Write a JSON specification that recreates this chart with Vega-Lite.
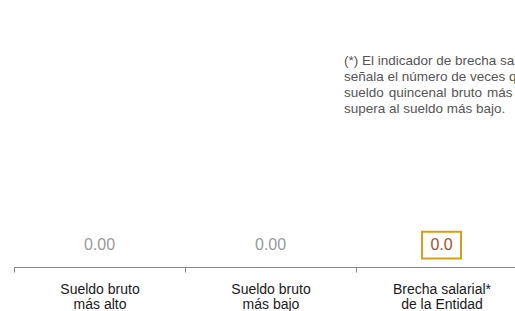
{
  "$schema": "https://vega.github.io/schema/vega-lite/v6.json",
  "autosize": "none",
  "padding": {"left": 14, "top": 0, "right": 0, "bottom": 44},
  "width": 513,
  "height": 267,
  "background": "white",
  "config": {"view": {"stroke": null}, "font": "Liberation Sans"},
  "datasets": {
    "valores": [
      {"concepto": "Sueldo bruto|más alto", "valor": "0.00"},
      {"concepto": "Sueldo bruto|más bajo", "valor": "0.00"},
      {"concepto": "Brecha salarial*|de la Entidad", "valor": "0.0"}
    ],
    "nota": [
      {"texto": "(*) El indicador de brecha salarial|señala el número de veces que el|sueldo \u200aquincenal \u200abruto \u200amás \u200aalto|supera al sueldo más bajo."}
    ]
  },
  "layer": [
    {
      "data": {"name": "valores"},
      "mark": {"type": "text", "fontSize": 16, "baseline": "middle", "align": "center"},
      "encoding": {
        "x": {
          "field": "concepto", "type": "nominal", "sort": null,
          "scale": {"paddingInner": 0, "paddingOuter": 0},
          "axis": {
            "title": null, "labelAngle": 0, "tickBand": "extent", "tickSize": 5,
            "domainColor": "#888888", "tickColor": "#888888", "labelColor": "#1a1a1a",
            "labelFontSize": 14, "labelPadding": 10, "labelLineHeight": 15,
            "labelExpr": "split(datum.label, '|')"
          }
        },
        "y": {"datum": 8.2, "type": "quantitative", "scale": {"domain": [0, 100]}, "axis": null},
        "text": {"field": "valor"},
        "color": {
          "field": "concepto", "type": "nominal", "legend": null,
          "scale": {"domain": ["Sueldo bruto|más alto", "Sueldo bruto|más bajo", "Brecha salarial*|de la Entidad"], "range": ["#999999", "#999999", "#A0522D"]}
        }
      }
    },
    {
      "data": {"name": "valores"},
      "transform": [{"filter": "datum.valor == '0.0'"}],
      "mark": {"type": "point", "shape": "M-1,-0.69L1,-0.69L1,0.69L-1,0.69Z", "size": 1521, "filled": false, "stroke": "#D4A017", "strokeWidth": 2, "opacity": 1},
      "encoding": {
        "x": {"field": "concepto", "type": "nominal", "sort": null},
        "y": {"datum": 8.2, "type": "quantitative"}
      }
    },
    {
      "data": {"name": "nota"},
      "transform": [{"calculate": "split(datum.texto, '|')", "as": "lineas"}],
      "mark": {"type": "text", "align": "left", "baseline": "middle", "fontSize": 13.5, "lineHeight": 16, "color": "#555555", "dx": -12},
      "encoding": {
        "x": {"datum": "Brecha salarial*|de la Entidad", "type": "nominal", "bandPosition": 0},
        "y": {"datum": 77.3, "type": "quantitative"},
        "text": {"field": "lineas"}
      }
    }
  ]
}
